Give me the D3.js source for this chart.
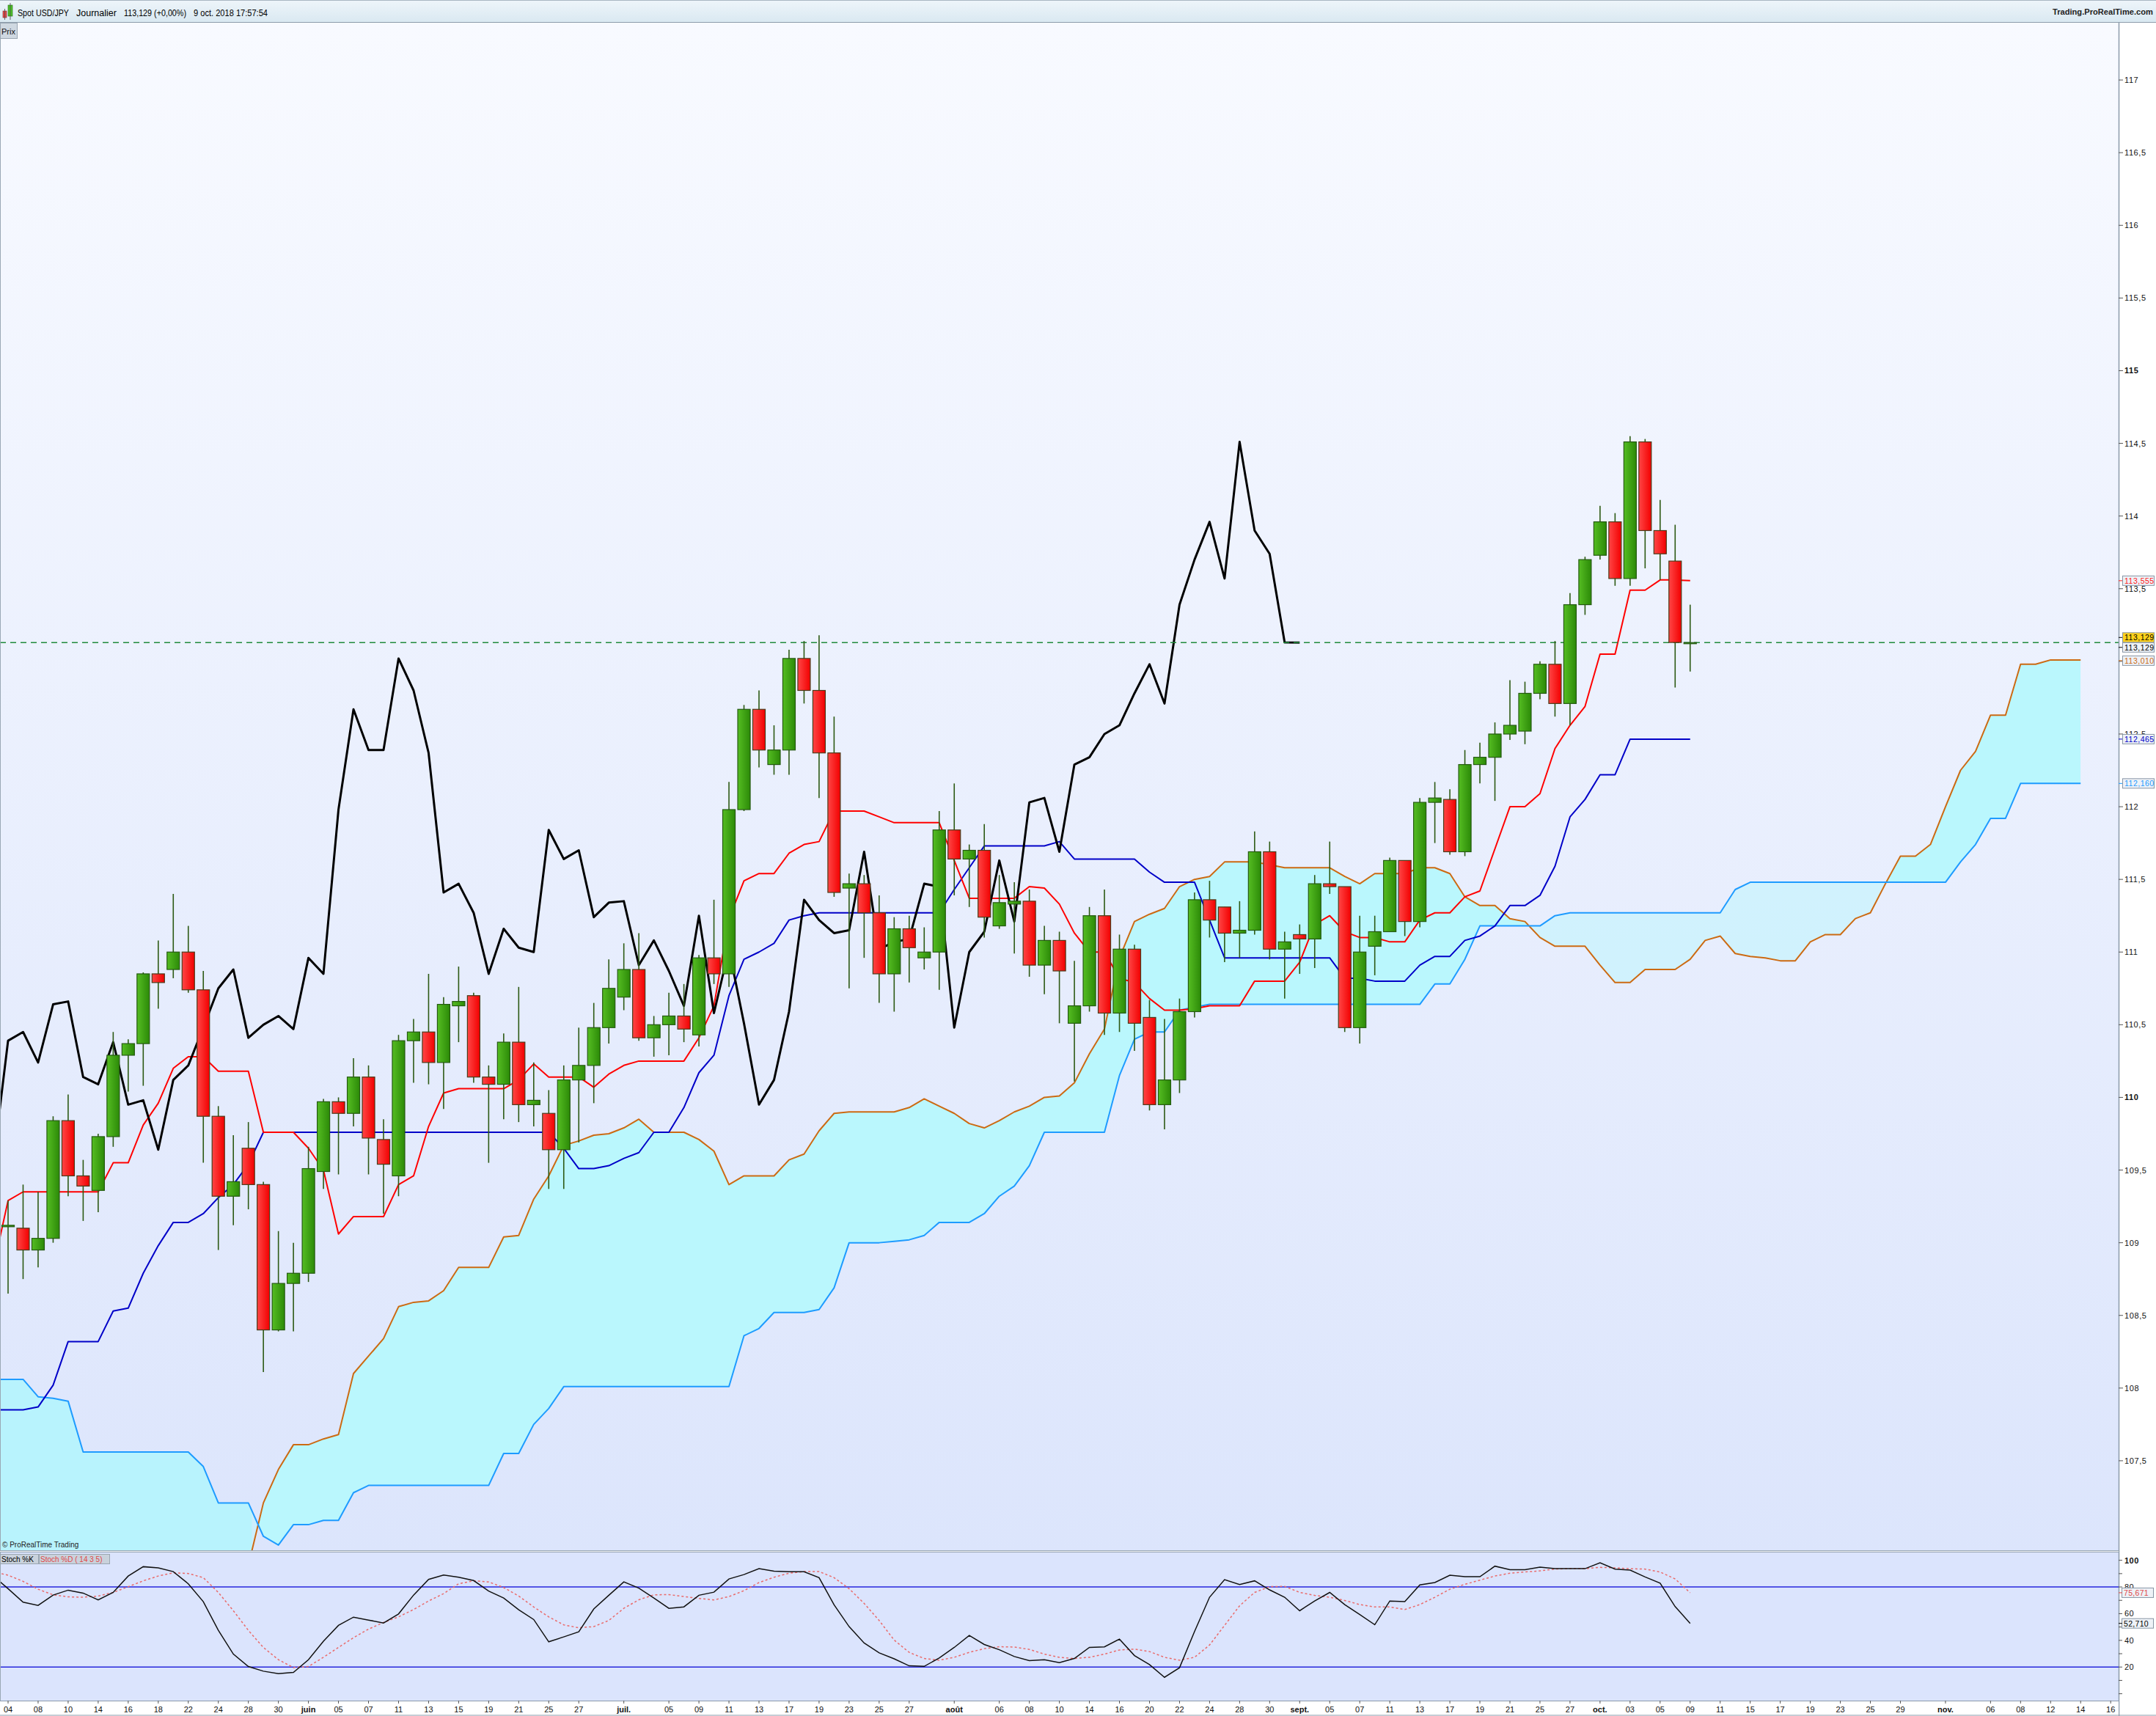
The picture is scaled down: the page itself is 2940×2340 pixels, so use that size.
<!DOCTYPE html>
<html>
<head>
<meta charset="utf-8">
<script src="https://cdn.jsdelivr.net/npm/d3@7"></script>
<style>
body { margin: 0; background: #fff; }
svg { display: block; font-family: "Liberation Sans", Arial, sans-serif; }
</style>
</head>
<body>
<svg id="chart" width="2940" height="2340"></svg>
<script>
// Spot USD/JPY daily, 4 May 2018 -> 9 Oct 2018 (one value per trading day)
const candleStart = "2018-05-04";
const open  = [109.11,109.10,108.95,109.03,109.84,109.46,109.36,109.73,110.29,110.37,110.85,110.88,111.00,110.74,109.87,109.32,109.65,109.40,108.40,108.72,108.79,109.49,109.97,109.89,110.14,109.71,109.46,110.39,110.45,110.24,110.63,110.70,110.14,110.09,110.38,109.95,109.89,109.64,110.12,110.22,110.48,110.69,110.88,110.41,110.50,110.56,110.43,110.96,110.85,111.98,112.67,112.29,112.39,113.02,112.80,112.37,111.44,111.47,111.27,110.85,111.16,110.96,111.00,111.84,111.64,111.70,111.18,111.33,111.35,110.91,111.08,110.51,110.63,111.25,110.58,111.02,110.55,109.95,110.12,110.59,111.36,111.31,111.13,111.15,111.69,111.02,111.12,111.09,111.47,111.45,110.48,111.04,111.14,111.63,111.21,112.03,112.05,111.69,112.29,112.34,112.50,112.52,112.78,112.98,112.71,113.39,113.73,113.96,113.57,114.51,113.90,113.69,113.129];
const high  = [109.29,109.40,109.35,109.87,110.02,109.57,109.75,110.45,110.40,110.86,111.08,111.40,111.18,110.87,109.94,109.74,109.83,109.42,109.08,109.00,109.66,109.99,110.00,110.27,110.22,109.85,110.43,110.54,110.85,110.69,110.90,110.72,110.22,110.44,110.76,110.24,110.05,110.22,110.48,110.65,110.95,111.06,111.13,110.56,110.72,110.78,110.98,111.36,112.17,112.70,112.80,112.56,113.08,113.14,113.18,112.62,111.54,111.53,111.39,111.24,111.25,111.17,111.97,112.16,111.74,111.88,111.53,111.48,111.43,111.18,111.14,110.94,111.31,111.43,111.12,111.05,110.67,110.54,110.68,111.41,111.49,111.31,111.35,111.83,111.76,111.14,111.19,111.53,111.76,111.45,111.25,111.25,111.65,111.63,112.06,112.17,112.12,112.39,112.44,112.58,112.87,112.86,113.00,113.14,113.47,113.72,114.07,114.02,114.55,114.53,114.11,113.94,113.39];
const low   = [108.65,108.75,108.83,109.00,109.32,109.15,109.21,109.66,110.04,110.08,110.61,110.82,110.72,109.55,108.95,109.12,109.23,108.11,108.39,108.39,108.73,109.37,109.47,109.80,109.47,109.20,109.32,110.10,110.09,109.92,110.38,110.10,109.55,109.85,109.83,109.80,109.37,109.37,109.69,109.96,110.37,110.60,110.39,110.28,110.29,110.38,110.35,110.78,110.76,111.97,112.27,112.22,112.22,112.71,112.06,111.38,110.75,110.96,110.65,110.59,110.79,110.88,110.74,111.39,111.31,111.10,111.16,110.99,110.83,110.71,110.51,110.11,110.59,110.43,110.45,110.32,109.91,109.78,110.03,110.55,111.10,110.93,110.96,111.12,110.95,110.68,110.85,110.89,111.40,110.45,110.37,110.84,111.14,111.11,111.17,111.75,111.67,111.66,112.16,112.04,112.46,112.43,112.74,112.62,112.56,113.32,113.70,113.52,113.52,113.64,113.56,112.82,112.93];
const close = [109.12,108.95,109.03,109.84,109.46,109.39,109.73,110.29,110.37,110.85,110.79,111.00,110.74,109.87,109.32,109.42,109.40,108.40,108.72,108.79,109.51,109.97,109.89,110.14,109.72,109.54,110.39,110.45,110.24,110.64,110.66,110.14,110.09,110.38,109.95,109.98,109.64,110.12,110.22,110.48,110.75,110.88,110.41,110.50,110.56,110.47,110.96,110.85,111.98,112.67,112.39,112.39,113.02,112.80,112.37,111.41,111.47,111.27,110.85,111.16,111.03,111.00,111.84,111.64,111.70,111.24,111.34,111.35,110.91,111.08,110.87,110.63,111.25,110.58,111.02,110.51,109.95,110.12,110.59,111.36,111.22,111.13,111.15,111.69,111.02,111.07,111.09,111.47,111.45,110.48,111.00,111.14,111.63,111.21,112.03,112.06,111.69,112.29,112.34,112.50,112.56,112.78,112.98,112.71,113.39,113.70,113.96,113.57,114.51,113.90,113.74,113.13,113.129];

// Ichimoku lines, starting 3 May 2018
const lineStart = "2018-05-03";
const tenkan = [108.82,109.29,109.35,109.35,109.35,109.35,109.35,109.35,109.55,109.55,109.81,109.96,110.20,110.28,110.28,110.18,110.18,110.18,109.76,109.76,109.76,109.65,109.50,109.06,109.18,109.18,109.18,109.40,109.46,109.80,110.03,110.06,110.06,110.06,110.06,110.12,110.23,110.14,110.14,110.14,110.07,110.16,110.22,110.25,110.25,110.25,110.25,110.41,110.63,111.23,111.49,111.54,111.54,111.68,111.74,111.76,111.97,111.97,111.97,111.93,111.89,111.89,111.89,111.89,111.63,111.37,111.37,111.37,111.37,111.45,111.44,111.33,111.13,111.00,111.00,110.82,110.79,110.68,110.60,110.60,110.61,110.63,110.63,110.63,110.80,110.80,110.80,110.93,111.19,111.25,111.14,111.10,111.10,111.07,111.07,111.22,111.27,111.27,111.38,111.42,111.71,112.00,112.00,112.09,112.40,112.56,112.69,113.05,113.05,113.49,113.49,113.56,113.56,113.555];
const kijun  = [107.85,107.85,107.85,107.87,108.02,108.32,108.32,108.32,108.53,108.55,108.79,108.98,109.14,109.14,109.20,109.31,109.40,109.54,109.76,109.76,109.76,109.76,109.76,109.76,109.76,109.76,109.76,109.76,109.76,109.76,109.76,109.76,109.76,109.76,109.76,109.76,109.76,109.76,109.65,109.51,109.51,109.53,109.58,109.62,109.76,109.76,109.93,110.17,110.29,110.70,110.95,111.00,111.06,111.22,111.25,111.27,111.27,111.27,111.27,111.27,111.27,111.27,111.27,111.27,111.43,111.58,111.73,111.73,111.73,111.73,111.73,111.76,111.64,111.64,111.64,111.64,111.64,111.55,111.48,111.48,111.48,111.22,110.96,110.96,110.96,110.96,110.96,110.96,110.96,110.96,110.82,110.82,110.80,110.80,110.80,110.91,110.97,110.97,111.08,111.11,111.18,111.32,111.32,111.39,111.59,111.93,112.05,112.22,112.22,112.465,112.465,112.465,112.465,112.465];
const senkouA = [106.30,106.30,106.25,106.20,106.20,106.25,106.30,106.35,106.35,106.40,106.45,106.50,106.50,106.55,106.60,106.65,106.70,106.78,107.21,107.44,107.61,107.61,107.65,107.68,108.10,108.22,108.34,108.56,108.59,108.60,108.67,108.83,108.83,108.83,109.04,109.05,109.30,109.46,109.67,109.70,109.74,109.75,109.79,109.85,109.76,109.76,109.76,109.71,109.63,109.40,109.46,109.46,109.46,109.57,109.61,109.77,109.89,109.90,109.90,109.90,109.90,109.93,109.99,109.94,109.89,109.82,109.79,109.84,109.90,109.94,110.00,110.01,110.10,110.30,110.47,110.96,111.21,111.26,111.30,111.45,111.50,111.52,111.62,111.62,111.62,111.60,111.58,111.58,111.58,111.58,111.52,111.47,111.54,111.54,111.54,111.58,111.58,111.54,111.38,111.32,111.32,111.23,111.21,111.10,111.04,111.04,111.04,110.91,110.79,110.79,110.88,110.88,110.88,110.95,111.08,111.11,110.99,110.97,110.96,110.94,110.94,111.07,111.12,111.12,111.23,111.27,111.47,111.66,111.66,111.74,112.00,112.25,112.38,112.63,112.63,112.98,112.98,113.01,113.01,113.01];
const senkouB = [108.06,108.06,108.06,107.94,107.93,107.91,107.56,107.56,107.56,107.56,107.56,107.56,107.56,107.56,107.46,107.21,107.21,107.21,106.98,106.92,107.06,107.06,107.09,107.09,107.28,107.33,107.33,107.33,107.33,107.33,107.33,107.33,107.33,107.33,107.55,107.55,107.75,107.86,108.01,108.01,108.01,108.01,108.01,108.01,108.01,108.01,108.01,108.01,108.01,108.01,108.36,108.41,108.52,108.52,108.52,108.54,108.69,109.00,109.00,109.00,109.01,109.02,109.05,109.14,109.14,109.14,109.20,109.32,109.39,109.53,109.76,109.76,109.76,109.76,109.76,110.15,110.40,110.45,110.45,110.60,110.62,110.64,110.64,110.64,110.64,110.64,110.64,110.64,110.64,110.64,110.64,110.64,110.64,110.64,110.64,110.64,110.78,110.78,110.95,111.18,111.18,111.18,111.18,111.18,111.25,111.27,111.27,111.27,111.27,111.27,111.27,111.27,111.27,111.27,111.27,111.27,111.43,111.48,111.48,111.48,111.48,111.48,111.48,111.48,111.48,111.48,111.48,111.48,111.48,111.48,111.48,111.62,111.74,111.92,111.92,112.16,112.16,112.16,112.16,112.16];
const chikouShift = 26;

// Stochastic (14 3 5), starting 3 May 2018
const stochK = [88.5,78.7,68.6,66.2,73.9,77.6,75.4,70.3,75.9,88.2,95.2,94.3,91.5,82.4,69.0,47.5,29.7,20.4,16.9,15.0,16.0,25.5,39.3,51.2,57.4,55.2,53.0,59.8,73.9,85.7,89.0,87.3,84.8,76.9,71.7,62.9,55.6,38.9,42.6,46.4,63.5,73.8,83.8,79.1,71.7,64.0,65.1,73.8,76.1,86.0,89.3,93.7,91.9,91.4,91.4,87.0,66.6,50.3,38.0,30.6,26.2,20.9,20.5,26.8,34.7,43.7,36.9,33.0,27.9,24.8,25.5,23.3,26.4,34.7,35.1,40.9,28.6,21.8,12.3,19.5,46.6,72.3,85.5,81.8,84.6,77.8,72.3,62.2,69.5,75.9,66.8,59.4,51.7,69.5,69.0,81.5,83.3,88.8,87.7,87.7,95.6,93.0,93.0,94.8,93.7,93.7,93.7,98.1,93.4,92.6,87.5,82.9,65.3,52.71];
const stochD = [91.5,88.8,84.2,78.3,74.1,72.6,72.3,73.2,75.9,80.2,84.6,88.2,90.6,90.1,87.0,75.9,62.2,47.5,34.7,25.5,19.6,20.4,27.3,34.7,42.0,48.4,53.4,57.6,63.1,69.5,75.0,82.4,84.6,83.8,79.6,73.2,65.0,57.6,51.6,49.4,50.3,54.9,64.0,70.4,74.1,74.3,72.8,71.4,70.3,72.8,77.2,83.3,87.3,90.3,91.5,91.5,87.0,78.7,67.7,54.9,40.2,31.0,26.4,25.1,27.3,31.0,33.8,35.2,35.0,33.2,29.7,27.3,26.4,27.3,29.7,32.8,33.4,31.6,27.3,25.1,27.3,36.5,51.2,65.9,75.9,80.2,80.5,75.9,73.7,72.3,69.9,66.8,65.0,65.0,63.1,66.8,72.3,78.3,82.0,85.1,88.2,90.3,91.2,92.1,93.4,93.7,93.7,94.7,94.3,93.7,93.4,91.2,86.0,75.671];

// x axis labels
const tickDates = ["2018-05-04","2018-05-08","2018-05-10","2018-05-14","2018-05-16","2018-05-18","2018-05-22","2018-05-24","2018-05-28","2018-05-30","2018-06-01","2018-06-05","2018-06-07","2018-06-11","2018-06-13","2018-06-15","2018-06-19","2018-06-21","2018-06-25","2018-06-27","2018-07-02","2018-07-05","2018-07-09","2018-07-11","2018-07-13","2018-07-17","2018-07-19","2018-07-23","2018-07-25","2018-07-27","2018-08-01","2018-08-06","2018-08-08","2018-08-10","2018-08-14","2018-08-16","2018-08-20","2018-08-22","2018-08-24","2018-08-28","2018-08-30","2018-09-03","2018-09-05","2018-09-07","2018-09-11","2018-09-13","2018-09-17","2018-09-19","2018-09-21","2018-09-25","2018-09-27","2018-10-01","2018-10-03","2018-10-05","2018-10-09","2018-10-11","2018-10-15","2018-10-17","2018-10-19","2018-10-23","2018-10-25","2018-10-29","2018-11-01","2018-11-06","2018-11-08","2018-11-12","2018-11-14","2018-11-16"];
const tickLabels = ["04","08","10","14","16","18","22","24","28","30","juin","05","07","11","13","15","19","21","25","27","juil.","05","09","11","13","17","19","23","25","27","août","06","08","10","14","16","20","22","24","28","30","sept.","05","07","11","13","17","19","21","25","27","oct.","03","05","09","11","15","17","19","23","25","29","nov.","06","08","12","14","16"];
const monthLabels = ["juin","juil.","août","sept.","oct.","nov."];

const priceTicks = d3.range(107.5, 117.01, 0.5);
const boldPrices = [110, 115];
const stochTicks = d3.range(0, 101, 10);
const stochLabelled = [20, 40, 60, 80, 100];
const stochLevels = [20, 80];

const headerParts = [
  {x: 24, w: 70, t: "Spot USD/JPY"},
  {x: 104, w: 55, t: "Journalier"},
  {x: 169, w: 85, t: "113,129 (+0,00%)"},
  {x: 264, w: 101, t: "9 oct. 2018 17:57:54"}
];

// ---------- layout ----------
const W = 2940, H = 2340;
const plotRight = 2889;
const mainTop = 31, mainBottom = 2114;
const stochTop = 2117, stochBottom = 2319;

const svg = d3.select("#chart");
const defs = svg.append("defs");

const fmt = d3.utcFormat("%Y-%m-%d");
const days = d3.utcDay.range(new Date(Date.UTC(2018, 4, 3)), new Date(Date.UTC(2018, 10, 17)))
  .filter(d => d.getUTCDay() % 6 !== 0);
const dayIndex = new Map(days.map((d, i) => [fmt(d), i]));
const c0 = dayIndex.get(candleStart);
const l0 = dayIndex.get(lineStart);

const x = d3.scaleLinear().domain([1, 141]).range([11, 2878.2]);
const y = d3.scaleLinear().domain([106.884, 117.394]).range([mainBottom, mainTop]);
const ys = d3.scaleLinear().domain([-5.15, 105.85]).range([stochBottom, stochTop]);

const candles = open.map((o, k) => ({j: c0 + k, o, h: high[k], l: low[k], c: close[k]}));
const lineData = arr => arr.map((v, k) => ({j: l0 + k, v}));
const cloud = senkouA.map((a, k) => ({j: l0 + k, a, b: senkouB[k]}));
const chikou = close.slice(chikouShift - (c0 - l0)).map((v, k) => ({j: l0 + k, v}));

// gradients
function vGrad(id, stops) {
  const g = defs.append("linearGradient").attr("id", id).attr("x1", 0).attr("y1", 0).attr("x2", 0).attr("y2", 1);
  stops.forEach(s => g.append("stop").attr("offset", s[0]).attr("stop-color", s[1]));
}
function hGrad(id, stops) {
  const g = defs.append("linearGradient").attr("id", id).attr("x1", 0).attr("y1", 0).attr("x2", 1).attr("y2", 0);
  stops.forEach(s => g.append("stop").attr("offset", s[0]).attr("stop-color", s[1]));
}
vGrad("bgMain", [[0, "#f8faff"], [1, "#dce5fc"]]);
vGrad("bgHead", [[0, "#eef5fa"], [1, "#d9e8f1"]]);
hGrad("up", [[0, "#55bd22"], [1, "#2c8a08"]]);
hGrad("down", [[0, "#ff4646"], [1, "#f20000"]]);

defs.append("clipPath").attr("id", "clipMain").append("rect")
  .attr("x", 1).attr("y", mainTop).attr("width", plotRight - 1).attr("height", mainBottom - mainTop);
defs.append("clipPath").attr("id", "clipStoch").append("rect")
  .attr("x", 1).attr("y", stochTop).attr("width", plotRight - 1).attr("height", stochBottom - stochTop);

// backgrounds
svg.append("rect").attr("width", W).attr("height", H).attr("fill", "#fff");
svg.append("rect").attr("x", 0).attr("y", mainTop).attr("width", plotRight).attr("height", mainBottom - mainTop).attr("fill", "url(#bgMain)");
svg.append("rect").attr("x", 0).attr("y", stochTop).attr("width", plotRight).attr("height", stochBottom - stochTop).attr("fill", "#dbe4fd");

// header bar
svg.append("rect").attr("x", 0).attr("y", 0).attr("width", W).attr("height", mainTop).attr("fill", "url(#bgHead)");
svg.append("line").attr("x1", 0).attr("x2", W).attr("y1", 0.5).attr("y2", 0.5).attr("stroke", "#a9b6c2");
svg.append("line").attr("x1", 0).attr("x2", W).attr("y1", mainTop - 0.5).attr("y2", mainTop - 0.5).attr("stroke", "#8d9cab");

// ---------- main plot ----------
const main = svg.append("g").attr("clip-path", "url(#clipMain)");

// kumo: bright where span A is above span B, pale where below
// (the part where span A is still under the bottom edge keeps the bright tone)
const cloudArea = d3.area().x(d => x(d.j)).y0(d => y(d.b)).y1(d => y(d.a));
defs.append("clipPath").attr("id", "aboveB").append("path")
  .attr("d", d3.area().x(d => x(d.j)).y0(mainTop).y1(d => y(d.b))(cloud));
defs.append("clipPath").attr("id", "belowB").append("path")
  .attr("d", d3.area().x(d => x(d.j)).y0(d => y(d.b)).y1(mainBottom + 50)(cloud));
const kIn = cloud.findIndex(d => y(d.a) < mainBottom);
const pA = cloud[kIn - 1], pB = cloud[kIn];
const tIn = (y(pA.a) - mainBottom) / (y(pA.a) - y(pB.a));
const xEnter = x(pA.j + tIn * (pB.j - pA.j));
defs.append("clipPath").attr("id", "leftZone").append("rect").attr("x", 0).attr("y", 0).attr("width", xEnter).attr("height", H);
defs.append("clipPath").attr("id", "rightZone").append("rect").attr("x", xEnter).attr("y", 0).attr("width", W - xEnter).attr("height", H);

main.append("path").datum(cloud).attr("d", cloudArea).attr("clip-path", "url(#aboveB)").attr("fill", "#baf7fd");
const bear = main.append("g").attr("clip-path", "url(#belowB)");
bear.append("path").datum(cloud).attr("d", cloudArea).attr("clip-path", "url(#leftZone)").attr("fill", "#b8f3fd");
bear.append("path").datum(cloud).attr("d", cloudArea).attr("clip-path", "url(#rightZone)").attr("fill", "rgba(190,246,253,0.55)");

const line = d3.line().x(d => x(d.j)).y(d => y(d.v));
function drawLine(data, color, width) {
  main.append("path").datum(data).attr("d", line).attr("fill", "none")
    .attr("stroke", color).attr("stroke-width", width).attr("stroke-linejoin", "round");
}
drawLine(lineData(senkouA), "#cc6a12", 2);
drawLine(lineData(senkouB), "#1e9bff", 2);
drawLine(lineData(kijun), "#0000c8", 2);
drawLine(lineData(tenkan), "#ff0000", 2);
drawLine(chikou, "#000000", 3);

// last price
const last = close[close.length - 1];
main.append("line").attr("x1", 0).attr("x2", plotRight).attr("y1", y(last)).attr("y2", y(last))
  .attr("stroke", "#1f8a3a").attr("stroke-width", 1.5).attr("stroke-dasharray", "8,6");

// candles
const bw = 17;
const cg = main.append("g");
cg.selectAll("line.wick").data(candles).join("line")
  .attr("x1", d => x(d.j)).attr("x2", d => x(d.j))
  .attr("y1", d => y(d.h)).attr("y2", d => y(d.l))
  .attr("stroke", "#2d5a14").attr("stroke-width", 1.6);
cg.selectAll("rect.body").data(candles).join("rect")
  .attr("x", d => x(d.j) - bw / 2).attr("width", bw)
  .attr("y", d => y(Math.max(d.o, d.c)))
  .attr("height", d => Math.max(1.5, Math.abs(y(d.o) - y(d.c))))
  .attr("fill", d => d.c >= d.o ? "url(#up)" : "url(#down)")
  .attr("stroke", d => d.c >= d.o ? "#245a10" : "#4b3a18").attr("stroke-width", 1.2);

// ---------- price axis ----------
svg.append("line").attr("x1", plotRight + 0.5).attr("x2", plotRight + 0.5).attr("y1", mainTop).attr("y2", H)
  .attr("stroke", "#8c9bab").attr("stroke-width", 1.5);
svg.append("line").attr("x1", 0.5).attr("x2", 0.5).attr("y1", mainTop).attr("y2", stochBottom)
  .attr("stroke", "#9aa8b5").attr("stroke-width", 1);

// value boxes on the price axis (last values of each series)
const boxes = [
  {v: tenkan[tenkan.length - 1], dy: 0, color: "#ff2020"},
  {v: close[close.length - 1], dy: 6.5, color: "#000"},
  {v: close[close.length - 1], dy: -7, color: "#000", bg: "#ffd21a"},
  {v: senkouA[senkouA.length - 1], dy: 1, color: "#cc6a12"},
  {v: kijun[kijun.length - 1], dy: 0, color: "#0000c8"},
  {v: senkouB[senkouB.length - 1], dy: 0, color: "#1e9bff"}
];
boxes.forEach(b => b.cy = y(b.v) + b.dy);
// a tick label sitting right under a value box is hidden, as on the platform
const shownTicks = priceTicks.filter(t => !boxes.some(b => Math.abs(b.cy - y(t)) < 5));

const pa = svg.append("g");
pa.selectAll("line").data(priceTicks).join("line")
  .attr("x1", plotRight).attr("x2", plotRight + 6).attr("y1", d => y(d)).attr("y2", d => y(d))
  .attr("stroke", "#555");
pa.selectAll("text").data(shownTicks).join("text")
  .attr("x", plotRight + 8).attr("y", d => y(d) + 4)
  .attr("font-size", 11).attr("letter-spacing", 0.6)
  .attr("font-weight", d => boldPrices.includes(d) ? "bold" : "normal")
  .attr("fill", "#111")
  .text(d => String(d).replace(".", ","));

const num3 = v => v.toFixed(3).replace(".", ",");
boxes.forEach(b => {
  const g = svg.append("g");
  g.append("line").attr("x1", plotRight).attr("x2", plotRight + 6).attr("y1", b.cy).attr("y2", b.cy).attr("stroke", b.color);
  g.append("rect").attr("x", plotRight + 5.5).attr("y", b.cy - 6.5).attr("width", 43).attr("height", 13)
    .attr("fill", b.bg || "#eef2f7").attr("stroke", "#8795a5");
  g.append("text").attr("x", plotRight + 8).attr("y", b.cy + 3.8).attr("font-size", 10.5).attr("letter-spacing", 0.5)
    .attr("fill", b.color).text(num3(b.v));
});

// ---------- separator and stochastic ----------
svg.append("rect").attr("x", 0).attr("y", mainBottom).attr("width", plotRight).attr("height", stochTop - mainBottom).attr("fill", "#eef1f5");
[mainBottom + 0.5, stochTop - 0.5].forEach(v => svg.append("line").attr("x1", 0).attr("x2", plotRight).attr("y1", v).attr("y2", v).attr("stroke", "#98a6b3").attr("stroke-width", 1.2));

svg.append("text").attr("x", 3).attr("y", 2110).attr("font-size", 10).attr("fill", "#222").text("\u00a9 ProRealTime Trading");

const st = svg.append("g").attr("clip-path", "url(#clipStoch)");
stochLevels.forEach(v => st.append("line").attr("x1", 0).attr("x2", plotRight).attr("y1", ys(v)).attr("y2", ys(v))
  .attr("stroke", "#2626dc").attr("stroke-width", 1.6));
const sline = d3.line().x(d => x(d.j)).y(d => ys(d.v));
st.append("path").datum(lineData(stochD)).attr("d", sline).attr("fill", "none")
  .attr("stroke", "#ea6b6b").attr("stroke-width", 1.5).attr("stroke-dasharray", "3,3");
st.append("path").datum(lineData(stochK)).attr("d", sline).attr("fill", "none")
  .attr("stroke", "#111").attr("stroke-width", 1.5);

// stoch legend
svg.append("rect").attr("x", 0.5).attr("y", 2119.5).attr("width", 52).attr("height", 13).attr("fill", "#c9d2dc").attr("stroke", "#9aa6b2");
svg.append("rect").attr("x", 53.5).attr("y", 2119.5).attr("width", 96).attr("height", 13).attr("fill", "#c9d2dc").attr("stroke", "#9aa6b2");
svg.append("text").attr("x", 2).attr("y", 2130).attr("font-size", 10).attr("fill", "#000").text("Stoch %K");
svg.append("text").attr("x", 55).attr("y", 2130).attr("font-size", 10).attr("fill", "#e04848").text("Stoch %D ( 14 3 5)");

// stoch axis
const sa = svg.append("g");
sa.selectAll("line").data(stochTicks).join("line")
  .attr("x1", plotRight).attr("x2", plotRight + 5).attr("y1", d => ys(d)).attr("y2", d => ys(d)).attr("stroke", "#555");
sa.selectAll("text").data(stochLabelled).join("text")
  .attr("x", plotRight + 8).attr("y", d => ys(d) + 4).attr("font-size", 11).attr("letter-spacing", 0.5)
  .attr("font-weight", d => d === 100 ? "bold" : "normal").attr("fill", "#111").text(d => d);
function stochBox(v, color) {
  svg.append("rect").attr("x", plotRight + 4.5).attr("y", ys(v) - 6.5).attr("width", 43).attr("height", 13)
    .attr("fill", "#eef2f7").attr("stroke", "#8795a5");
  svg.append("line").attr("x1", plotRight).attr("x2", plotRight + 5).attr("y1", ys(v)).attr("y2", ys(v)).attr("stroke", color);
  svg.append("text").attr("x", plotRight + 7).attr("y", ys(v) + 4).attr("font-size", 10.5).attr("letter-spacing", 0.3)
    .attr("fill", color).text(num3(v));
}
stochBox(stochD[stochD.length - 1], "#e04848");
stochBox(stochK[stochK.length - 1], "#000");

// ---------- date axis ----------
svg.append("rect").attr("x", 0).attr("y", stochBottom).attr("width", plotRight).attr("height", H - stochBottom).attr("fill", "#fff");
svg.append("line").attr("x1", 0).attr("x2", plotRight).attr("y1", stochBottom + 0.5).attr("y2", stochBottom + 0.5).attr("stroke", "#8c9bab");
svg.append("line").attr("x1", 0).attr("x2", W).attr("y1", H - 1).attr("y2", H - 1).attr("stroke", "#8c9bab");
const ticks = tickDates.map((d, k) => ({j: dayIndex.get(d), t: tickLabels[k]}));
const xa = svg.append("g");
xa.selectAll("line").data(ticks).join("line")
  .attr("x1", d => x(d.j)).attr("x2", d => x(d.j)).attr("y1", stochBottom).attr("y2", stochBottom + 4).attr("stroke", "#555");
xa.selectAll("text").data(ticks).join("text")
  .attr("x", d => x(d.j)).attr("y", 2335).attr("text-anchor", "middle").attr("font-size", 11)
  .attr("font-weight", d => monthLabels.includes(d.t) ? "bold" : "normal").attr("fill", "#111").text(d => d.t);

// ---------- header texts ----------
svg.append("rect").attr("x", 4).attr("y", 15).attr("width", 5).attr("height", 9).attr("fill", "#e84a4a").attr("stroke", "#7a2a2a").attr("stroke-width", 0.6);
svg.append("line").attr("x1", 6.5).attr("x2", 6.5).attr("y1", 12).attr("y2", 27).attr("stroke", "#444").attr("stroke-width", 0.8);
svg.append("rect").attr("x", 11).attr("y", 7).attr("width", 6).attr("height", 15).attr("fill", "#4ec42a").attr("stroke", "#2a6a1a").attr("stroke-width", 0.6);
svg.append("line").attr("x1", 14).attr("x2", 14).attr("y1", 4).attr("y2", 27).attr("stroke", "#444").attr("stroke-width", 0.8);
svg.selectAll("text.head").data(headerParts).join("text").attr("class", "head")
  .attr("x", d => d.x).attr("y", 22).attr("font-size", 12.5).attr("fill", "#000")
  .attr("textLength", d => d.w).attr("lengthAdjust", "spacingAndGlyphs").text(d => d.t);
svg.append("text").attr("x", W - 141).attr("y", 20).attr("font-size", 11)
  .attr("font-weight", "bold").attr("textLength", 137).attr("lengthAdjust", "spacingAndGlyphs")
  .attr("fill", "#222").text("Trading.ProRealTime.com");

svg.append("rect").attr("x", 0.5).attr("y", 31.5).attr("width", 23).attr("height", 21).attr("fill", "#cfd8e1").attr("stroke", "#9aa6b2");
svg.append("text").attr("x", 2).attr("y", 47).attr("font-size", 11).attr("fill", "#111").text("Prix");
</script>
</body>
</html>
